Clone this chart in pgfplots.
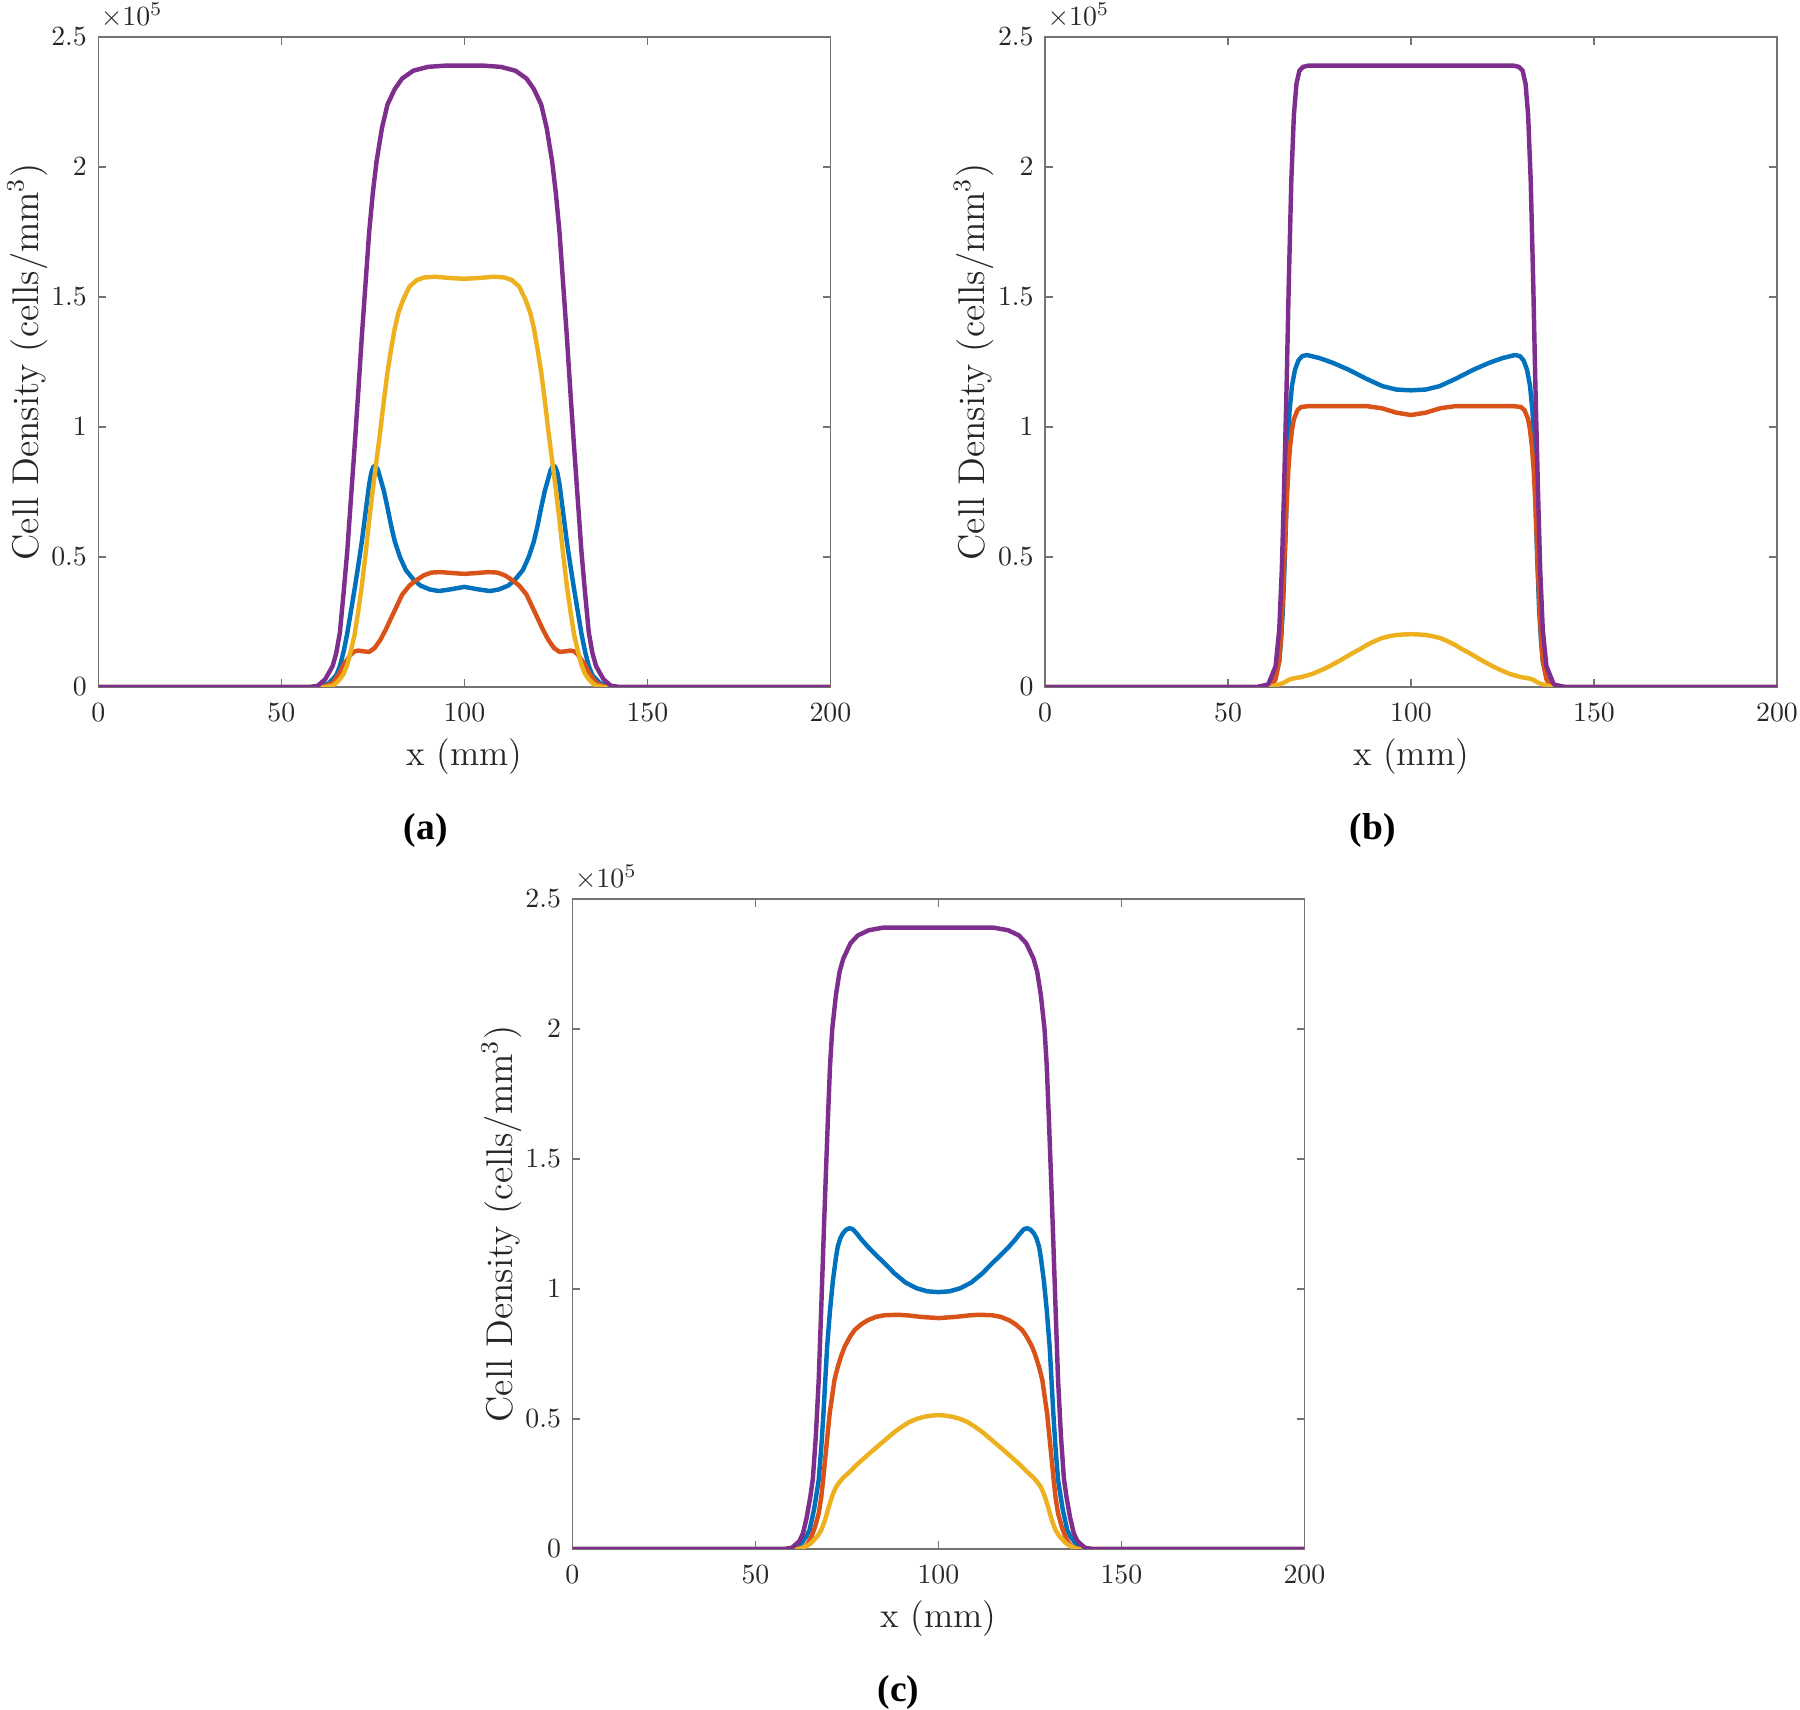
\documentclass[border=0pt]{standalone}
\usepackage{pgfplots}
\pgfplotsset{compat=1.18}
\usepackage{fontspec}
\newfontfamily\capfont[BoldFont={Liberation Serif Bold}]{Liberation Serif}
\definecolor{mblue}{rgb}{0,0.447,0.741}
\definecolor{mred}{rgb}{0.850,0.325,0.098}
\definecolor{myellow}{rgb}{0.929,0.694,0.125}
\definecolor{mpurple}{rgb}{0.494,0.184,0.556}
\definecolor{axisgray}{rgb}{0.45,0.45,0.45}
\definecolor{txt}{rgb}{0.15,0.15,0.15}
\pgfplotsset{mystyle/.style={
  width=263.52pt, height=234pt, scale only axis,
  xmin=0, xmax=200, ymin=0, ymax=2.5,
  xtick={0,50,100,150,200}, ytick={0,0.5,1,1.5,2,2.5},
  tick align=inside, major tick length=2.8pt,
  axis line style={draw=axisgray, line width=0.4pt},
  every tick/.style={draw=axisgray, line width=0.4pt},
  tick label style={font=\fontsize{10.1}{12}\selectfont, text=txt},
  xticklabel style={yshift=-2.6pt},
  yticklabel style={xshift=-0.6pt},
  xlabel={x (mm)}, ylabel={Cell Density (cells/mm$^3$)},
  xlabel style={font=\fontsize{12.9}{15}\selectfont, text=txt, at={(axis description cs:0.5,-0.1077)}, anchor=center},
  ylabel style={font=\fontsize{13.4}{16}\selectfont, text=txt, at={(axis description cs:-0.0969,0.5)}, anchor=center},
  every axis plot/.append style={line width=1.6pt, line join=round, no markers},
  clip mode=individual,
}}
\newcommand{\tenfive}{\node[anchor=base west, inner sep=0pt, font=\fontsize{10.1}{12}\selectfont, text=txt] at (rel axis cs:0,1) [xshift=0.7pt, yshift=4pt] {$\times10^{5}$};}
\begin{document}
\begin{tikzpicture}
\useasboundingbox (0,0) rectangle (648pt,615.6pt);
% ---------------- (a)
\begin{axis}[mystyle, at={(35.4pt,368.28pt)}, anchor=south west]
\addplot[mblue] coordinates {(0,0) (58,0) (61,0.004) (63,0.015) (65,0.045) (66,0.08) (67,0.135) (68,0.205) (69,0.29) (70,0.375) (71,0.465) (72,0.56) (73,0.67) (74,0.78) (74.6,0.825) (75.2,0.848) (75.8,0.85) (76.4,0.835) (77,0.805) (78,0.755) (79,0.69) (80,0.62) (81,0.56) (82.4,0.5) (84,0.45) (86,0.415) (88,0.39) (90.6,0.375) (93,0.369) (96,0.375) (100,0.385)
(104,0.375) (107,0.369) (109.4,0.375) (112,0.39) (114,0.415) (116,0.45) (117.6,0.5) (119,0.56) (120,0.62) (121,0.69) (122,0.755) (123,0.805) (123.6,0.835) (124.2,0.85) (124.8,0.848) (125.4,0.825) (126,0.78) (127,0.67) (128,0.56) (129,0.465) (130,0.375) (131,0.29) (132,0.205) (133,0.135) (134,0.08) (135,0.045) (137,0.015) (139,0.004) (142,0) (200,0)};
\addplot[mred] coordinates {(0,0) (60,0) (62,0.003) (64,0.015) (66,0.055) (67,0.085) (68,0.105) (69,0.125) (70,0.137) (71,0.14) (72.5,0.137) (74,0.135) (75.5,0.15) (77,0.18) (78.5,0.22) (80,0.265) (81.5,0.31) (83,0.355) (85,0.39) (87,0.412) (89,0.43) (91,0.44) (93.5,0.442) (96,0.439) (100,0.435)
(104,0.439) (106.5,0.442) (109,0.44) (111,0.43) (113,0.412) (115,0.39) (117,0.355) (118.5,0.31) (120,0.265) (121.5,0.22) (123,0.18) (124.5,0.15) (126,0.135) (127.5,0.137) (129,0.14) (130,0.137) (131,0.125) (132,0.105) (133,0.085) (134,0.055) (136,0.015) (138,0.003) (140,0) (200,0)};
\addplot[myellow] coordinates {(0,0) (62,0) (64,0.005) (65,0.015) (66,0.03) (67,0.05) (68,0.085) (69,0.14) (70,0.2) (71,0.29) (72,0.39) (73,0.51) (74,0.64) (75,0.76) (76,0.87) (77,0.98) (78,1.1) (79,1.21) (80,1.3) (81,1.38) (82,1.44) (83.3,1.49) (85,1.54) (87,1.565) (89,1.575) (92,1.578) (96,1.573) (100,1.57)
(104,1.573) (108,1.578) (111,1.575) (113,1.565) (115,1.54) (116.7,1.49) (118,1.44) (119,1.38) (120,1.3) (121,1.21) (122,1.1) (123,0.98) (124,0.87) (125,0.76) (126,0.64) (127,0.51) (128,0.39) (129,0.29) (130,0.2) (131,0.14) (132,0.085) (133,0.05) (134,0.03) (135,0.015) (136,0.005) (138,0) (200,0)};
\addplot[mpurple] coordinates {(0,0) (58,0) (60,0.005) (62,0.03) (64,0.08) (65,0.13) (66,0.21) (67,0.36) (68,0.52) (69,0.72) (70,0.92) (71,1.13) (72,1.35) (73,1.55) (74,1.75) (75,1.9) (76,2.02) (77.5,2.15) (79,2.24) (81,2.3) (83,2.34) (86,2.37) (90,2.385) (95,2.39) (100,2.39)
(105,2.39) (110,2.385) (114,2.37) (117,2.34) (119,2.3) (121,2.24) (122.5,2.15) (124,2.02) (125,1.9) (126,1.75) (127,1.55) (128,1.35) (129,1.13) (130,0.92) (131,0.72) (132,0.52) (133,0.36) (134,0.21) (135,0.13) (136,0.08) (138,0.03) (140,0.005) (142,0) (200,0)};
\tenfive
\end{axis}
% ---------------- (b)
\begin{axis}[mystyle, at={(376.2pt,368.28pt)}, anchor=south west]
\addplot[mblue] coordinates {(0,0) (60,0) (62,0.01) (63,0.04) (64,0.1) (64.5,0.18) (65,0.3) (65.4,0.45) (65.8,0.62) (66.3,0.9) (66.8,1.06) (67.5,1.16) (68.3,1.22) (69.2,1.255) (70.2,1.272) (71.5,1.277) (75,1.265) (78.6,1.247) (83,1.22) (87.7,1.186) (92.2,1.157) (96,1.144) (100,1.141)
(104,1.144) (107.8,1.157) (112.3,1.186) (117,1.22) (121.4,1.247) (125,1.265) (128.5,1.277) (129.8,1.272) (130.8,1.255) (131.7,1.22) (132.5,1.16) (133.2,1.06) (133.7,0.9) (134.2,0.62) (134.6,0.45) (135,0.3) (135.5,0.18) (136,0.1) (137,0.04) (138,0.01) (140,0) (200,0)};
\addplot[mred] coordinates {(0,0) (61,0) (62,0.005) (63,0.03) (64,0.1) (64.5,0.2) (65,0.35) (65.5,0.52) (66,0.7) (66.5,0.84) (67,0.93) (67.5,0.99) (68,1.03) (69,1.065) (70,1.077) (72,1.08) (88,1.08) (92,1.072) (96,1.055) (100,1.046)
(104,1.055) (108,1.072) (112,1.08) (128,1.08) (130,1.077) (131,1.065) (132,1.03) (132.5,0.99) (133,0.93) (133.5,0.84) (134,0.7) (134.5,0.52) (135,0.35) (135.5,0.2) (136,0.1) (137,0.03) (138,0.005) (139,0) (200,0)};
\addplot[myellow] coordinates {(0,0) (60,0) (62,0.003) (64,0.01) (65.5,0.018) (66.5,0.027) (67.5,0.032) (70,0.038) (73,0.05) (76,0.068) (78,0.082) (81,0.105) (84,0.13) (86,0.145) (88,0.162) (90,0.176) (92,0.188) (94,0.195) (96,0.2) (98,0.202) (100,0.203)
(102,0.202) (104,0.2) (106,0.195) (108,0.188) (110,0.176) (112,0.162) (114,0.145) (116,0.13) (119,0.105) (122,0.082) (124,0.068) (127,0.05) (130,0.038) (132.5,0.032) (133.5,0.027) (134.5,0.018) (136,0.01) (138,0.003) (140,0) (200,0)};
\addplot[mpurple] coordinates {(0,0) (58,0) (61,0.01) (63,0.08) (64,0.22) (64.7,0.45) (65.3,0.75) (66,1.15) (66.6,1.55) (67.3,1.95) (68,2.2) (68.7,2.32) (69.5,2.37) (70.5,2.385) (72,2.39) (100,2.39)
(128,2.39) (129.5,2.385) (130.5,2.37) (131.3,2.32) (132,2.2) (132.7,1.95) (133.4,1.55) (134,1.15) (134.7,0.75) (135.3,0.45) (136,0.22) (137,0.08) (139,0.01) (142,0) (200,0)};
\tenfive
\end{axis}
% ---------------- (c)
\begin{axis}[mystyle, at={(206.06pt,57.96pt)}, anchor=south west]
\addplot[mblue] coordinates {(0,0) (60,0) (61.6,0.01) (63,0.03) (64,0.05) (64.8,0.073) (66,0.15) (67.3,0.265) (68,0.39) (68.6,0.522) (69.6,0.778) (70.4,0.92) (71.2,1.034) (72,1.12) (72.5,1.163) (73.2,1.195) (73.9,1.214) (74.8,1.228) (75.7,1.234) (76.6,1.23) (77.6,1.215) (79,1.19) (80.7,1.163) (83,1.13) (85.3,1.099) (88,1.06) (91,1.025) (94,1.003) (97,0.991) (100,0.988)
(103,0.991) (106,1.003) (109,1.025) (112,1.06) (114.7,1.099) (117,1.13) (119.3,1.163) (121,1.19) (122.4,1.215) (123.4,1.23) (124.3,1.234) (125.2,1.228) (126.1,1.214) (126.8,1.195) (127.5,1.163) (128,1.12) (128.8,1.034) (129.6,0.92) (130.4,0.778) (131.4,0.522) (132,0.39) (132.7,0.265) (134,0.15) (135.2,0.073) (136,0.05) (137,0.03) (138.4,0.01) (140,0) (200,0)};
\addplot[mred] coordinates {(0,0) (61,0) (63,0.005) (64.3,0.02) (65.3,0.047) (66.3,0.085) (67.3,0.137) (68,0.2) (68.5,0.265) (69.4,0.394) (70.3,0.522) (71,0.59) (71.6,0.65) (72.5,0.7) (73.5,0.745) (74.4,0.778) (75.8,0.815) (77.1,0.842) (79,0.865) (80.7,0.88) (83,0.893) (85.3,0.899) (89,0.901) (92,0.898) (95,0.893) (100,0.888)
(105,0.893) (108,0.898) (111,0.901) (114.7,0.899) (117,0.893) (119.3,0.88) (121,0.865) (122.9,0.842) (124.2,0.815) (125.6,0.778) (126.5,0.745) (127.5,0.7) (128.4,0.65) (129,0.59) (129.7,0.522) (130.6,0.394) (131.5,0.265) (132,0.2) (132.7,0.137) (133.7,0.085) (134.7,0.047) (135.7,0.02) (137,0.005) (139,0) (200,0)};
\addplot[myellow] coordinates {(0,0) (62,0) (63,0.005) (64,0.012) (65,0.02) (66,0.035) (67,0.05) (68,0.073) (69,0.11) (70,0.16) (71,0.205) (72,0.238) (73,0.258) (74,0.274) (76,0.3) (78,0.328) (80,0.353) (82,0.378) (84,0.402) (86,0.426) (88,0.45) (90,0.47) (92,0.488) (94,0.5) (96,0.508) (98,0.513) (100,0.515)
(102,0.513) (104,0.508) (106,0.5) (108,0.488) (110,0.47) (112,0.45) (114,0.426) (116,0.402) (118,0.378) (120,0.353) (122,0.328) (124,0.3) (126,0.274) (127,0.258) (128,0.238) (129,0.205) (130,0.16) (131,0.11) (132,0.073) (133,0.05) (134,0.035) (135,0.02) (136,0.012) (137,0.005) (138,0) (200,0)};
\addplot[mpurple] coordinates {(0,0) (58,0) (60,0.005) (62,0.03) (63,0.06) (64,0.12) (65,0.2) (65.7,0.27) (66.5,0.43) (67.3,0.65) (68,0.93) (68.6,1.18) (69.2,1.42) (69.8,1.65) (70.4,1.86) (71,2.0) (72,2.13) (73,2.22) (74,2.27) (76,2.33) (78,2.36) (81,2.38) (85,2.39) (100,2.39)
(115,2.39) (119,2.38) (122,2.36) (124,2.33) (126,2.27) (127,2.22) (128,2.13) (129,2.0) (129.6,1.86) (130.2,1.65) (130.8,1.42) (131.4,1.18) (132,0.93) (132.7,0.65) (133.5,0.43) (134.3,0.27) (135,0.2) (136,0.12) (137,0.06) (138,0.03) (140,0.005) (142,0) (200,0)};
\tenfive
\end{axis}
\node[font={\fontsize{13.5}{16}\capfont\bfseries}] at (153.3pt,316.5pt) {(a)};
\node[font={\fontsize{13.5}{16}\capfont\bfseries}] at (494.2pt,316.5pt) {(b)};
\node[font={\fontsize{13.5}{16}\capfont\bfseries}] at (323.5pt,6.4pt) {(c)};
\end{tikzpicture}
\end{document}
